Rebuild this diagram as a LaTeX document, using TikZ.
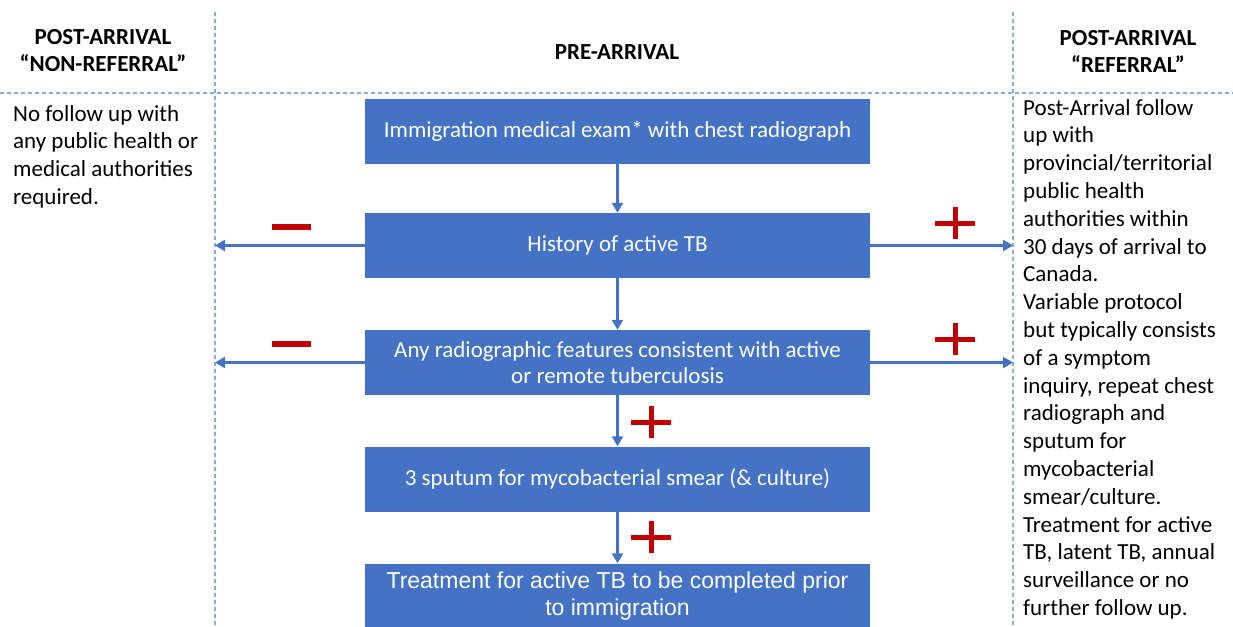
\documentclass[tikz,border=0pt]{standalone}
\usepackage{fontspec}
\setmainfont{Carlito}
\newfontfamily\arialfont{Liberation Sans}
\usetikzlibrary{arrows.meta}
\definecolor{boxblue}{HTML}{4472C4}
\definecolor{gridblue}{HTML}{7FB0DE}
\definecolor{signred}{HTML}{C00000}
\begin{document}
\begin{tikzpicture}[x=1pt, y=-1pt,
  stage/.style={fill=boxblue, text=white, minimum width=505pt, minimum height=65pt,
    align=center, inner sep=0pt, font=\fontsize{23}{26}\selectfont},
  head/.style={align=center, font=\fontsize{23}{27}\selectfont\bfseries},
  note/.style={align=left, anchor=north west, inner sep=0pt, font=\fontsize{23}{27.8}\selectfont},
  flow/.style={boxblue, line width=3pt, -{Triangle[length=10pt,width=11pt]}},
  divider/.style={gridblue, line width=1.1pt, dash pattern=on 4pt off 3pt}]
\useasboundingbox (0,0) rectangle (1233,626);
% column dividers
\draw[divider] (215,12) -- (215,626);
\draw[divider] (1013,12) -- (1013,626);
\draw[divider] (0,93) -- (1233,93);
\coordinate (leftedge) at (215,0);
\coordinate (rightedge) at (1013,0);
% headings
\node[head] (hnon) at (103,51) {POST-ARRIVAL\\“NON-REFERRAL”};
\node[head] (hpre) at (617,52) {PRE-ARRIVAL};
\node[head] (href) at (1128,51) {POST-ARRIVAL\\“REFERRAL”};
% side notes
\node[note] (nonref) at (13,105) {No follow up with\\any public health or\\medical authorities\\required.};
\node[note] (referral) at (1023,99) {Post-Arrival follow\\up with\\provincial/territorial\\public health\\authorities within\\30 days of arrival to\\Canada.\\Variable protocol\\but typically consists\\of a symptom\\inquiry, repeat chest\\radiograph and\\sputum for\\mycobacterial\\smear/culture.\\Treatment for active\\TB, latent TB, annual\\surveillance or no\\further follow up.};
% pre-arrival steps
\node[stage] (exam) at (617.5,131) {Immigration medical exam* with chest radiograph};
\node[stage] (history) at (617.5,245.5) {History of active TB};
\node[stage] (xray) at (617.5,362.5) {Any radiographic features consistent with active\\or remote tuberculosis};
\node[stage] (sputum) at (617.5,479) {3 sputum for mycobacterial smear (\& culture)};
\node[stage, font=\arialfont\fontsize{23}{27}\selectfont] (treat) at (617.5,596) {Treatment for active TB to be completed prior\\to immigration};
% arrows
\draw[flow] (exam) -- (history);
\draw[flow] (history) -- (xray);
\draw[flow] (xray) -- (sputum);
\draw[flow] (sputum) -- (treat);
\draw[flow] (history.west) -- (history.west -| leftedge);
\draw[flow] (xray.west) -- (xray.west -| leftedge);
\draw[flow] (history.east) -- (history.east -| rightedge);
\draw[flow] (xray.east) -- (xray.east -| rightedge);
% signs
\draw[signred, line width=6pt] (272,227) -- (311,227);
\draw[signred, line width=6pt] (272,344) -- (311,344);
\foreach \px/\py in {955/223, 955/339, 651/422, 651/537}
  \draw[signred, line width=5pt] (\px-20,\py) -- (\px+20,\py) (\px,\py-16) -- (\px,\py+16);
\end{tikzpicture}
\end{document}
